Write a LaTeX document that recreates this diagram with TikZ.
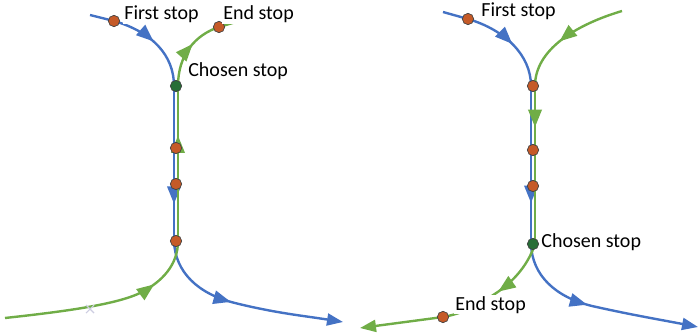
\documentclass[tikz,border=0pt]{standalone}
\usepackage{fontspec}
\setmainfont{Carlito}
\usetikzlibrary{arrows.meta,decorations.markings}
\definecolor{routeblue}{RGB}{68,114,196}
\definecolor{routegreen}{RGB}{112,173,71}
\definecolor{stoporange}{RGB}{197,90,40}
\definecolor{stopgreen}{RGB}{40,110,55}
\definecolor{crossgray}{RGB}{205,205,225}
\tikzset{
  blueline/.style={routeblue,line width=1.8pt},
  greenline/.style={routegreen,line width=1.8pt},
  midarrow/.style={postaction={decorate},decoration={markings,mark=at position #1 with {\arrow{Triangle[length=13pt,width=10pt]}}}},
  endarrow/.style={-{Triangle[length=12pt,width=9pt]}},
  stopdot/.style={circle,draw=black!75,line width=0.5pt,fill=stoporange,inner sep=0pt,minimum size=8.5pt},
  chosendot/.style={stopdot,fill=stopgreen},
  stoplabel/.style={fill=white,inner sep=0.8pt,font=\fontsize{15}{17}\selectfont,anchor=base west},
}
\begin{document}
\begin{tikzpicture}[x=0.75pt,y=-0.75pt]
\useasboundingbox (0,0) rectangle (699,335);
% left route
\coordinate (L1) at (114,21);
\coordinate (L2) at (176,86);
\coordinate (L3) at (176,148);
\coordinate (L4) at (176,184);
\coordinate (L5) at (176,241);
\coordinate (L6) at (219,27);
\coordinate (lbstart) at (90,15);
\coordinate (lbend) at (343,322);
\coordinate (lgstart) at (5,318);
\coordinate (lgend) at (236,22);
\draw[blueline] (lbstart) -- (L1);
\draw[blueline,midarrow=0.47] (L1) .. controls (152,32) and (174,55) .. ([xshift=-1.5pt]L2);
\draw[blueline] ([xshift=-1.5pt]L2) -- ([xshift=-1.5pt]L5);
\draw[blueline,midarrow=0.44,endarrow] ([xshift=-1.5pt]L5) .. controls (175,272) and (198,294) .. (235,303) .. controls (275,313) and (305,316) .. (lbend);
\draw[greenline,midarrow=0.75] (lgstart) .. controls (60,312) and (115,305) .. (140,293) .. controls (162,282) and (178,265) .. ([xshift=1.5pt]L5);
\draw[greenline] ([xshift=1.5pt]L5) -- ([xshift=1.5pt]L2);
\draw[greenline,midarrow=0.48] ([xshift=1.5pt]L2) .. controls (178,55) and (195,35) .. (L6) -- (lgend);
% arrows on the shared part
\draw[blueline,midarrow=0.76] ([xshift=-1.5pt]L2) -- ([xshift=-1.5pt]L5);
\draw[greenline,midarrow=0.68] ([xshift=1.5pt]L5) -- ([xshift=1.5pt]L2);
\draw[crossgray,line width=0.8pt] (86,305) -- (94,313) (86,313) -- (94,305);
\node[stopdot] (first1) at (L1) {};
\node[chosendot] (chosen1) at (L2) {};
\node[stopdot] (mid1a) at (L3) {};
\node[stopdot] (mid1b) at (L4) {};
\node[stopdot] (join1) at (L5) {};
\node[stopdot] (end1) at (L6) {};
\node[stoplabel] (first1lbl) at (123,20) {First stop};
\node[stoplabel] (end1lbl) at (222,20) {End stop};
\node[stoplabel] (chosen1lbl) at (187,76) {Chosen stop};
% right route
\coordinate (R1) at (468,19);
\coordinate (R2) at (533,86);
\coordinate (R3) at (533,150);
\coordinate (R4) at (533,186);
\coordinate (R5) at (533,244);
\coordinate (R6) at (443,317);
\coordinate (rbstart) at (443,12);
\coordinate (rbend) at (698,327);
\coordinate (rgstart) at (622,11);
\coordinate (rgend) at (360,328);
\draw[blueline] (rbstart) -- (R1);
\draw[blueline,midarrow=0.52] (R1) .. controls (505,30) and (531,55) .. ([xshift=-1.5pt]R2);
\draw[blueline] ([xshift=-1.5pt]R2) -- ([xshift=-1.5pt]R5);
\draw[blueline,midarrow=0.44,endarrow] ([xshift=-1.5pt]R5) .. controls (532,275) and (555,297) .. (592,306) .. controls (632,315) and (662,320) .. (rbend);
\draw[greenline,midarrow=0.57] (rgstart) .. controls (575,25) and (535,50) .. ([xshift=1.5pt]R2);
\draw[greenline] ([xshift=1.5pt]R2) -- ([xshift=1.5pt]R5);
\draw[greenline,midarrow=0.5] ([xshift=1.5pt]R5) .. controls (527,268) and (510,285) .. (490,297) .. controls (475,306) and (465,313) .. (R6);
\draw[greenline,endarrow] (R6) -- (rgend);
% arrows on the shared part
\draw[blueline,midarrow=0.74] ([xshift=-1.5pt]R2) -- ([xshift=-1.5pt]R5);
\draw[greenline,midarrow=0.26] ([xshift=1.5pt]R2) -- ([xshift=1.5pt]R5);
\node[stopdot] (first2) at (R1) {};
\node[stopdot] (join2) at (R2) {};
\node[stopdot] (mid2a) at (R3) {};
\node[stopdot] (mid2b) at (R4) {};
\node[chosendot] (chosen2) at (R5) {};
\node[stopdot] (end2) at (R6) {};
\node[stoplabel] (first2lbl) at (480,17) {First stop};
\node[stoplabel] (chosen2lbl) at (540,247) {Chosen stop};
\node[stoplabel] (end2lbl) at (454,310) {End stop};
\end{tikzpicture}
\end{document}
